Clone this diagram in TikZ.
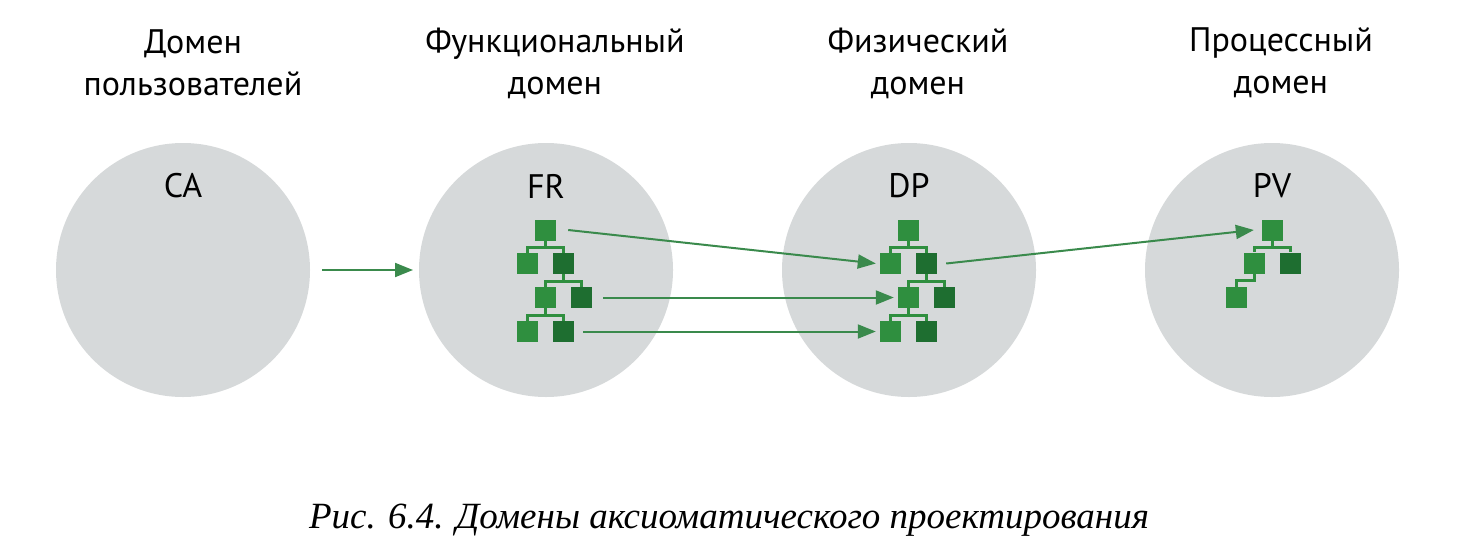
\documentclass[tikz,border=0pt]{standalone}
\usepackage{fontspec}
\setmainfont{PT Sans}
\newfontfamily\capfont{Liberation Serif}
\usetikzlibrary{arrows.meta}
\definecolor{dgray}{HTML}{D6D9DA}
\definecolor{gA}{HTML}{2F8F3F}
\definecolor{gB}{HTML}{1E6E30}
\definecolor{arr}{HTML}{3A8A4C}
\tikzset{
 dom/.style={circle,fill=dgray,minimum size=254pt,inner sep=0},
 hd/.style={font=\fontsize{34}{42}\selectfont,align=center},
 bx/.style={fill=gA,minimum size=21pt,inner sep=0},
 bxd/.style={fill=gB,minimum size=21pt,inner sep=0},
 ln/.style={draw=gA,line width=3pt},
 ar/.style={draw=arr,line width=2pt,-{Triangle[length=18pt,width=14pt]}}
}
\newcommand{\mytree}[2]{%
 \node[bx] (#1t) at (#2+545.5,230) {};
 \node[bx] (#1a) at (#2+527.5,263.5) {};
 \node[bxd] (#1b) at (#2+563.5,263.5) {};
 \node[bx] (#1c) at (#2+545.5,297.5) {};
 \node[bxd] (#1d) at (#2+581.5,297.5) {};
 \node[bx] (#1e) at (#2+527.5,331.5) {};
 \node[bxd] (#1f) at (#2+563.5,331.5) {};
 \draw[ln] (#1t.south) -- ++(0,7) -| (#1a.north) ([yshift=-7pt]#1t.south) -| (#1b.north);
 \draw[ln] (#1b.south) -- ++(0,7) -| (#1c.north) ([yshift=-7pt]#1b.south) -| (#1d.north);
 \draw[ln] (#1c.south) -- ++(0,7) -| (#1e.north) ([yshift=-7pt]#1c.south) -| (#1f.north);
}
\begin{document}
\begin{tikzpicture}[x=1pt,y=-1pt]
\useasboundingbox (0,0) rectangle (1458,557);
\node[dom] (ca) at (183,270) {};
\node[dom] (fr) at (546,270) {};
\node[dom] (dp) at (909,270) {};
\node[dom] (pv) at (1272,270) {};
\node[hd] (h1) at (193,63) {Домен\\пользователей};
\node[hd] (h2) at (555,63) {Функциональный\\домен};
\node[hd] (h3) at (918,63) {Физический\\домен};
\node[hd] (h4) at (1281,63) {Процессный\\домен};
\node[hd] (lca) at (183,186) {CA};
\node[hd] (lfr) at (546,186) {FR};
\node[hd] (ldp) at (909,186) {DP};
\node[hd] (lpv) at (1272,186) {PV};
\mytree{f}{0}
\mytree{d}{363}
\node[bx] (pt) at (1272.5,230) {};
\node[bx] (pa) at (1254.5,263) {};
\node[bxd] (pb) at (1290.5,263) {};
\node[bx] (pc) at (1236.5,297.5) {};
\draw[ln] (pt.south) -- ++(0,7) -| (pa.north) ([yshift=-7pt]pt.south) -| (pb.north);
\draw[ln] (pa.south) -- ++(0,7) -| (pc.north);
\coordinate (c1) at (322,270);
\coordinate (c2) at (413,270);
\draw[ar] (c1) -- (c2);
\draw[ar] ([xshift=12pt]ft.east) -- ([xshift=-4pt]da.west);
\draw[ar] ([xshift=11pt]fd.east) -- ([xshift=-4pt]dc.west);
\draw[ar] ([xshift=9pt]ff.east) -- ([xshift=-4pt]de.west);
\draw[ar] ([xshift=9pt]db.east) -- ([xshift=-8pt]pt.west);
\node[font=\capfont\itshape\fontsize{37}{42}\selectfont] (cap) at (729,520) {Рис. 6.4. Домены аксиоматического проектирования};
\end{tikzpicture}
\end{document}
